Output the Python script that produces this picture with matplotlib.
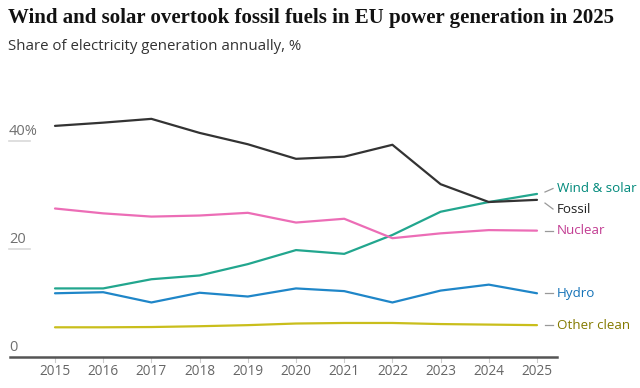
import matplotlib.pyplot as plt

years = list(range(2015, 2026))
fossil = [42.8, 43.4, 44.1, 41.5, 39.4, 36.7, 37.1, 39.3, 32.0, 28.7, 29.1]
wind_solar = [12.7, 12.7, 14.4, 15.1, 17.2, 19.8, 19.1, 22.6, 26.9, 28.7, 30.2]
nuclear = [27.5, 26.6, 26.0, 26.2, 26.7, 24.9, 25.6, 22.0, 22.9, 23.5, 23.4]
hydro = [11.8, 12.0, 10.1, 11.9, 11.2, 12.7, 12.2, 10.1, 12.3, 13.4, 11.8]
other_clean = [5.5, 5.5, 5.55, 5.7, 5.9, 6.2, 6.3, 6.3, 6.1, 6.0, 5.9]

series = [
    ("Wind & solar", wind_solar, "#22a68e", "#00897b"),
    ("Fossil", fossil, "#333333", "#222222"),
    ("Nuclear", nuclear, "#ec6db6", "#c23c92"),
    ("Hydro", hydro, "#1f86c8", "#1573b8"),
    ("Other clean", other_clean, "#c9be1c", "#847a00"),
]
# label heights (value units) where the end labels sit
label_y = {"Wind & solar": 31.2, "Fossil": 27.4, "Nuclear": 23.4, "Hydro": 11.8, "Other clean": 5.9}

sans = "Open Sans"

fig = plt.figure(figsize=(6.4, 3.88), dpi=100)
ax = fig.add_axes([0, 0, 1, 1])
px = 48.2  # pixels per year
ax.set_xlim(2015 - 55 / px, 2015 + 585 / px)
ax.set_ylim(-31 / 5.4, 357 / 5.4)
ax.axis("off")

for name, vals, col, tcol in series:
    ax.plot(years, vals, color=col, lw=1.6, solid_capstyle="round", zorder=3)
    ly = label_y[name]
    end = vals[-1]
    # little connector from line end to label
    x0 = 2025 + 8 / px
    x1 = 2025 + 16 / px
    ax.plot([x0, x1], [end + (ly - end) * 0.35, ly], color="#999999", lw=0.9, clip_on=False)
    ax.text(2025 + 20 / px, ly, name, color=tcol, fontsize=9.6, family=sans,
            va="center", ha="left")

# y labels with short underlines
for v, lab in [(40, "40%"), (20, "20")]:
    ax.plot([2015 - 46 / px, 2015 - 25 / px], [v, v], color="#d9d9d9", lw=1.2)
    ax.text(2015 - 46 / px, v + 1.75, lab, color="#707070", fontsize=10.5, family=sans,
            ha="left", va="center")
ax.text(2015 - 46 / px, 1.85, "0", color="#707070", fontsize=10.5, family=sans,
        ha="left", va="center")

# baseline
ax.plot([2015 - 45 / px, 2025 + 20 / px], [0, 0], color="#555555", lw=1.8, zorder=4)
for y in years:
    ax.plot([y, y], [0, -0.9], color="#cccccc", lw=0.8)
    ax.text(y, -2.6, str(y), color="#666666", fontsize=9.8, family=sans,
            ha="center", va="center")

fig.text(8 / 640, 1 - 18 / 388, "Wind and solar overtook fossil fuels in EU power generation in 2025",
         fontsize=15, family="Liberation Serif", weight="bold", color="#121212",
         ha="left", va="center")
fig.text(8 / 640, 1 - 46 / 388, "Share of electricity generation annually, %",
         fontsize=10.8, family=sans, color="#333333", ha="left", va="center")

fig.savefig("out.png", dpi=100, facecolor="white")
